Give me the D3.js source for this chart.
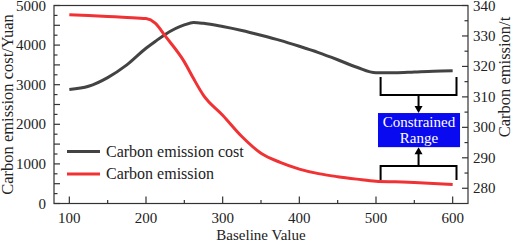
<!DOCTYPE html>
<html>
<head>
<meta charset="utf-8">
<script src="https://cdn.jsdelivr.net/npm/d3@7"></script>
<style>
	body { margin: 0; background: #fff; }
	svg { display: block; }
	text { font-family: 'Liberation Serif', 'Times New Roman', 'DejaVu Serif', serif; }
</style>
</head>
<body>
<svg id="chart" width="512" height="242"></svg>
<script>
// data
const baselineValues = [100, 125, 150, 175, 200, 212, 225, 250, 262, 275, 300, 325, 350, 375, 400, 425, 450, 475, 500, 525, 550, 575, 600];
const costValues = [2880, 2960, 3180, 3500, 3920, 4090, 4270, 4510, 4570, 4550, 4470, 4370, 4250, 4120, 3970, 3810, 3630, 3440, 3300, 3300, 3320, 3340, 3350];
const emissionValues = [337, 336.7, 336.4, 336.1, 335.7, 334.2, 330, 321.5, 316, 310.5, 304, 297, 291.5, 288.5, 286.3, 284.8, 283.8, 283, 282.3, 282.1, 281.9, 281.6, 281.2];
const xTicks = [100, 200, 300, 400, 500, 600];
const costTicks = [0, 1000, 2000, 3000, 4000, 5000];
const emissionTicks = [280, 290, 300, 310, 320, 330, 340];
const legendLabels = ['Carbon emission cost', 'Carbon emission'];

const margin = { top: 5.5, right: 44, bottom: 38.5, left: 54 };
const width = 512, height = 242;
const innerW = width - margin.left - margin.right;
const innerH = height - margin.top - margin.bottom;
const black = '#434343', red = '#f03234';
const font = "'Liberation Serif', 'Times New Roman', serif";

const svg = d3.select('#chart');
const g = svg.append('g').attr('transform', 'translate(' + margin.left + ',' + margin.top + ')');

const xScale = d3.scaleLinear().domain([80, 620]).range([0, innerW]);
const yLeft = d3.scaleLinear().domain([0, 5000]).range([innerH, 0]);
const yRight = d3.scaleLinear().domain([275, 340]).range([innerH, 0]);

// frame
g.append('rect')
	.attr('width', innerW).attr('height', innerH)
	.style('fill', 'none').style('stroke', '#333').style('stroke-width', 1.2);

// minor + major ticks (pointing inside)
function tickMarks(values, pos, len, orient) {
	values.forEach(function(v) {
		let line = g.append('line').style('stroke', '#333').style('stroke-width', 1.2);
		if (orient == 'left') line.attr('x1', 0).attr('x2', len).attr('y1', pos(v)).attr('y2', pos(v));
		if (orient == 'right') line.attr('x1', innerW).attr('x2', innerW - len).attr('y1', pos(v)).attr('y2', pos(v));
		if (orient == 'bottom') line.attr('x1', pos(v)).attr('x2', pos(v)).attr('y1', innerH).attr('y2', innerH - len);
	});
}
tickMarks(d3.range(0, 5001, 500), yLeft, 6, 'left');
tickMarks(d3.range(250, 5000, 500), yLeft, 3.5, 'left');
tickMarks(d3.range(280, 341, 10), yRight, 6, 'right');
tickMarks(d3.range(285, 340, 10), yRight, 3.5, 'right');
tickMarks(xTicks, xScale, 7, 'bottom');
tickMarks(d3.range(150, 600, 100), xScale, 3.5, 'bottom');

function label(sel) {
	return sel.attr('font-family', font).style('fill', '#222');
}

// tick labels
label(g.selectAll('.xl').data(xTicks).enter().append('text'))
	.attr('x', function(d) { return xScale(d); })
	.attr('y', innerH + 19)
	.style('text-anchor', 'middle').style('font-size', '15px')
	.text(function(d) { return d; });
label(g.selectAll('.yl').data(costTicks).enter().append('text'))
	.attr('x', -8)
	.attr('y', function(d) { return yLeft(d) + 5; })
	.style('text-anchor', 'end').style('font-size', '15px')
	.text(function(d) { return d; });
label(g.selectAll('.yr').data(emissionTicks).enter().append('text'))
	.attr('x', innerW + 5)
	.attr('y', function(d) { return yRight(d) + 5; })
	.style('text-anchor', 'start').style('font-size', '15px')
	.text(function(d) { return d; });

// axis titles
label(g.append('text'))
	.attr('x', innerW / 2).attr('y', innerH + 36)
	.style('text-anchor', 'middle').style('font-size', '15px')
	.text('Baseline Value');
label(svg.append('text'))
	.attr('transform', 'translate(13,' + (margin.top + innerH / 2) + ') rotate(-90)')
	.style('text-anchor', 'middle').style('font-size', '16.5px')
	.text('Carbon emission cost/Yuan');
label(svg.append('text'))
	.attr('transform', 'translate(510,' + 77 + ') rotate(-90)')
	.style('text-anchor', 'middle').style('font-size', '16.5px')
	.text('Carbon emission/t');

// series
const costLine = d3.line()
	.x(function(d, i) { return xScale(baselineValues[i]); })
	.y(function(d) { return yLeft(d); })
	.curve(d3.curveMonotoneX);
const emissionLine = d3.line()
	.x(function(d, i) { return xScale(baselineValues[i]); })
	.y(function(d) { return yRight(d); })
	.curve(d3.curveMonotoneX);

g.append('path').datum(costValues).attr('d', costLine)
	.style('fill', 'none').style('stroke', black).style('stroke-width', 3);
g.append('path').datum(emissionValues).attr('d', emissionLine)
	.style('fill', 'none').style('stroke', red).style('stroke-width', 3);

// legend
[black, red].forEach(function(c, i) {
	let y = 146 + i * 22.5;
	g.append('line')
		.attr('x1', 13).attr('x2', 46).attr('y1', y).attr('y2', y)
		.style('stroke', c).style('stroke-width', 3);
	label(g.append('text'))
		.attr('x', 52).attr('y', y + 5)
		.style('font-size', '16px')
		.text(legendLabels[i]);
});

// constrained range annotation
const bx0 = xScale(506), bx1 = xScale(605), bxm = xScale(555.5);
const ann = g.append('g').style('stroke', '#000').style('stroke-width', 2).style('fill', 'none');
ann.append('path').attr('d', 'M' + bx0 + ',' + yRight(316.5) + 'V' + yRight(310.6) + 'H' + bx1 + 'V' + yRight(316.5));
ann.append('path').attr('d', 'M' + bx0 + ',' + yRight(282.7) + 'V' + yRight(287.3) + 'H' + bx1 + 'V' + yRight(282.7));
ann.append('line').attr('x1', bxm).attr('x2', bxm).attr('y1', yRight(310.6)).attr('y2', yRight(306));
ann.append('line').attr('x1', bxm).attr('x2', bxm).attr('y1', yRight(287.3)).attr('y2', yRight(292.2));
g.append('path')
	.attr('d', 'M' + (bxm - 4) + ',' + (yRight(304.7) - 7) + 'L' + (bxm + 4) + ',' + (yRight(304.7) - 7) + 'L' + bxm + ',' + yRight(304.7) + 'Z')
	.style('fill', '#000');
g.append('path')
	.attr('d', 'M' + (bxm - 4) + ',' + (yRight(293.5) + 7) + 'L' + (bxm + 4) + ',' + (yRight(293.5) + 7) + 'L' + bxm + ',' + yRight(293.5) + 'Z')
	.style('fill', '#000');

g.append('rect')
	.attr('x', xScale(502.6)).attr('y', yRight(304.7))
	.attr('width', xScale(609.6) - xScale(502.6)).attr('height', yRight(293.5) - yRight(304.7))
	.style('fill', '#0a0af0');
['Constrained', 'Range'].forEach(function(t, i) {
	label(g.append('text'))
		.attr('x', xScale(556)).attr('y', yRight(304.7) + 14 + i * 16)
		.style('text-anchor', 'middle').style('font-size', '15px').style('fill', '#fff')
		.text(t);
});
</script>
</body>
</html>
